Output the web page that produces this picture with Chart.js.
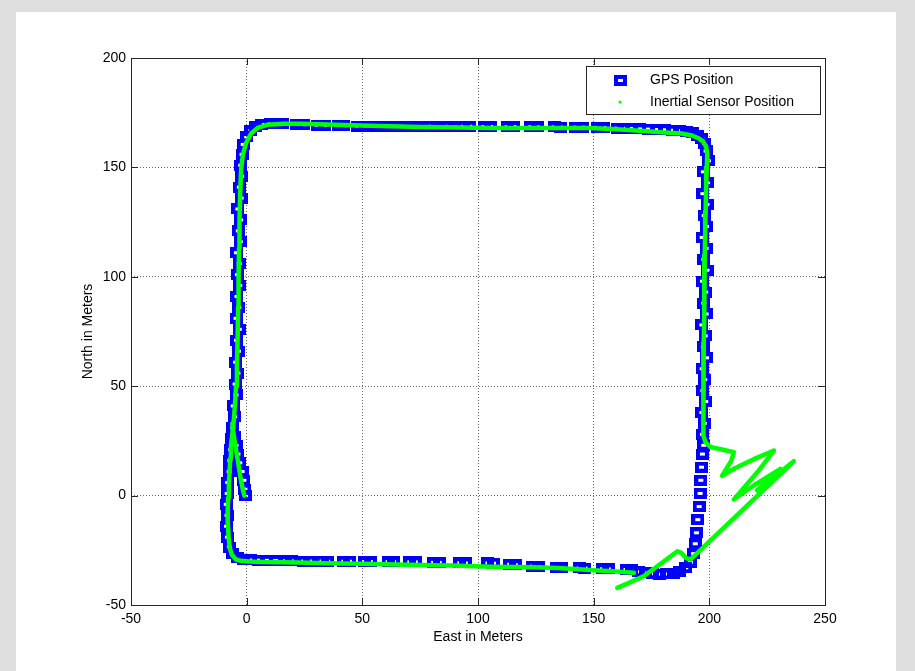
<!DOCTYPE html>
<html>
<head>
<meta charset="utf-8">
<script src="https://cdn.jsdelivr.net/npm/chart.js@4"></script>
<style>
  html, body { margin: 0; padding: 0; background: #dedede; }
  #wrap { width: 915px; height: 671px; }
</style>
</head>
<body>
<div id="wrap"><canvas id="track-chart" width="915" height="671"></canvas></div>
<script>
// Axis ticks
const eastTicks = [-50, 0, 50, 100, 150, 200, 250];
const northTicks = [-50, 0, 50, 100, 150, 200];

// GPS fixes (metres east / north) in driving order
const gpsEast = [
    // start
    -0.5, -0.8, -1.2, -2.0, -3.0, -3.8, -4.6, -5.4,
    // west side going north
    -6.0, -5.2, -5.8, -4.6, -5.0, -3.8, -4.8, -3.6, -4.4, -3.2, -4.6, -3.4, -4.2, -3.0, -4.0, -3.2, -4.4, -2.8, -3.6, -2.6, -3.8, -2.4, -3.2, -2.2, -2.6, -2.0,
    // NW corner
    -1.5, 0.0, 1.8, 3.8, 6.5,
    // north side
    10.5, 13, 15.5, 21.5, 24.5, 30.5, 33.5, 39.5, 42, 48, 50.8, 55.5, 58.3, 63, 65.8, 71, 73.8, 79.6, 82.4, 87, 89.8, 93.6, 96.4,
    102.6, 105.4, 112.6, 115.4, 122.8, 125.6, 132.9, 135.7, 142.3, 145.1, 151.6, 154.4, 160.2, 163, 166.5, 170, 173.5, 177, 180.5, 184, 187.3, 190.3, 192.8,
    // NE corner
    195.0, 196.8, 198.0, 198.6,
    // east side going south
    199.6, 197.4, 199.2, 197.2, 199.0, 197.8, 198.8, 196.9, 198.6, 197.6, 199.0, 197.0, 198.4, 197.6, 198.6, 196.8, 198.2, 197.4, 198.8, 196.9, 198.0, 197.2, 198.4, 196.8, 197.8, 197.0, 197.6,
    197.0, 196.6, 196.3, 196.0, 195.6, 195.0, 194.4, 193.9, 193.2,
    // SE corner
    191.8, 189.8, 187.3, 184.5, 181.5, 178.5, 175.5, 172.5, 169.5,
    // south side going west
    166.4, 164.0, 156.3, 153.9, 146.2, 143.8, 136.2, 133.8, 126.1, 123.7, 116.1, 113.7, 106.7, 104.3, 94.5, 92.1,
    83.2, 80.8, 72.9, 70.5, 63.5, 61.1, 53.4, 51.0, 44.4, 42.0, 35.0, 32.6, 27.1, 24.7, 19.2, 16.8,
    // SW corner
    12.5, 8.5, 5.0, 1.5, -1.5, -4.0, -6.2, -7.5,
    // west side going north again
    -8.3, -8.7, -8.5, -8.8, -8.4, -8.2, -7.6, -7.3, -6.9, -6.4
];
const gpsNorth = [
    0, 3, 7, 11, 15, 19, 23, 27,
    31, 36, 41, 46, 51, 56, 61, 66, 71, 76, 81, 86, 91, 96, 101, 106, 111, 116, 121, 126, 131, 136, 141, 146, 151, 156,
    160.5, 164, 166.8, 168.6, 169.6,
    170.0, 170.1, 169.9, 169.6, 169.5, 169.3, 169.2, 169.1, 169.0, 168.9, 168.9, 168.9, 168.8, 168.8, 168.8, 168.7, 168.7, 168.8, 168.7, 168.8, 168.7, 168.8, 168.8,
    168.7, 168.7, 168.6, 168.7, 168.6, 168.5, 168.5, 168.4, 168.4, 168.4, 168.3, 168.2, 168.0, 167.9, 167.8, 167.6, 167.5, 167.3, 167.2, 167.0, 166.7, 166.3, 165.8,
    164.8, 163, 160.8, 157.5,
    153, 148, 143, 138, 133, 128, 123, 118, 113, 108, 103, 98, 93, 88, 83, 78, 73, 68, 63, 58, 53, 48, 43, 38, 33, 28, 23,
    19, 13, 7, 1, -5, -11, -17, -22, -26.5,
    -30.5, -33, -34.6, -35.4, -35.8, -35.9, -35.7, -35.3, -34.8,
    -33.9, -33.8, -33.5, -33.4, -33.1, -33.0, -33.0, -32.9, -32.4, -32.2, -31.6, -31.4, -30.9, -30.8, -30.8, -30.7,
    -30.5, -30.5, -30.3, -30.3, -30.2, -30.2, -30.1, -30.1, -30.0, -30.0, -30.0, -29.9, -29.9, -29.9, -29.8, -29.8,
    -29.7, -29.6, -29.5, -29.4, -29.1, -28.4, -26.5, -23.5,
    -19, -14, -9, -4, 1, 6, 11, 16, 21, 26
];

// Inertial track, main trace
const insEast = [
    167.4, 158, 150, 142, 134.3, 125, 115, 106, 98.3, 89,
    80, 70, 59.5, 50, 40, 30.7, 22, 15, 7.6, 3.3,
    0, -2.5, -4.6, -6.3, -7.3, -7.8, -8.1, -8.2, -8.0, -7.7,
    -7.4, -7.1, -6.8, -6.2, -5.6, -5.1, -4.6, -4.2, -3.9, -3.7,
    -3.5, -3.3, -3.1, -2.8, -2.4, -1.6, -0.3, 1.9, 5, 9,
    16, 23.4, 35, 49.4, 62, 75, 87, 98.3, 110, 122,
    135, 148.7, 160, 171.7, 181, 188, 192.5, 195.4, 197.3, 198.6,
    199.1, 198.9, 198.6, 198.4, 198.2, 198.0, 197.9, 197.8, 197.7, 197.6,
    197.5, 197.4, 197.3, 197.3, 197.6, 198.3, 200.4, 205, 210.6, 209.5,
    205.5, 211, 220, 227.9, 221, 210.6, 219, 230.7, 220.6, 228,
    236.5, 191.8, 190, 188, 186.2, 182, 177.5, 171.7, 165, 160.2
];
const insNorth = [
    -35.3, -34.6, -34.1, -33.6, -33.1, -32.8, -32.6, -32.5, -32.3, -32.0,
    -31.8, -31.6, -31.4, -31.2, -31.0, -30.8, -30.6, -30.5, -30.4, -30.2,
    -30.0, -29.8, -29.2, -27.2, -24, -19, -13, -7, -1, 5,
    11, 17, 22.5, 28, 34, 41, 50, 60, 72, 86,
    100, 113, 126, 138, 149, 156, 161, 165.5, 168.2, 169.5,
    169.9, 170, 169.6, 169.1, 168.8, 168.5, 168.3, 168.1, 168, 168,
    168, 168, 167.4, 166.6, 166, 165.5, 164.6, 163.3, 161.8, 159.5,
    156, 150, 140, 130, 120, 110, 100, 90, 80, 70,
    60, 50, 40, 33, 27.5, 24.5, 22.2, 21.2, 19.8, 16,
    9, 12.5, 17, 20.6, 11, -1.8, 4.5, 12.2, 2.4, 8.5,
    15.7, -29.3, -28.6, -26.3, -25.4, -28.8, -32.3, -36.8, -40, -42.2
];

// Inertial track, short spur at the start point
const insStartEast = [-1.0, -1.8, -2.5, -3.2, -3.9, -4.6, -5.3, -5.9, -6.2];
const insStartNorth = [0, 3.5, 7.3, 12, 16.5, 21, 25.6, 30, 33];

const seriesNames = ['GPS Position', 'Inertial Sensor Position'];

const GPS_BLUE = '#0000ff';
const INS_GREEN = '#00ff00';
const AXIS_COLOR = '#262626';

function toPoints(xs, ys) {
    const n = Math.min(xs.length, ys.length);
    const pts = [];
    for (let i = 0; i < n; i++) pts.push({ x: xs[i], y: ys[i] });
    return pts;
}

// hollow, thick square marker like MATLAB's 's'
function makeSquareMarker() {
    const c = document.createElement('canvas');
    c.width = 13;
    c.height = 11;
    const g = c.getContext('2d');
    g.fillStyle = GPS_BLUE;
    g.fillRect(0, 0, 13, 11);
    g.clearRect(4, 4, 5, 3);
    return c;
}
const squareMarker = makeSquareMarker();

Chart.defaults.font.family = 'Arial, "Liberation Sans", Helvetica, sans-serif';
Chart.defaults.font.size = 14;
Chart.defaults.color = '#000';

// gray page with white figure
const figureBackground = {
    id: 'figureBackground',
    beforeDraw(chart) {
        const ctx = chart.ctx;
        ctx.save();
        ctx.fillStyle = '#dedede';
        ctx.fillRect(0, 0, chart.width, chart.height);
        ctx.fillStyle = '#ffffff';
        ctx.fillRect(16, 12, 880, chart.height - 12);
        ctx.restore();
    }
};

// box, inward ticks and legend
const axesBox = {
    id: 'axesBox',
    afterDraw(chart) {
        const ctx = chart.ctx;
        const area = chart.chartArea;
        const xs = chart.scales.x;
        const ys = chart.scales.y;
        const tick = 7;
        ctx.save();
        ctx.strokeStyle = AXIS_COLOR;
        ctx.lineWidth = 1;
        ctx.beginPath();
        eastTicks.forEach(v => {
            const px = Math.round(xs.getPixelForValue(v)) + 0.5;
            ctx.moveTo(px, area.bottom);
            ctx.lineTo(px, area.bottom - tick);
            ctx.moveTo(px, area.top);
            ctx.lineTo(px, area.top + tick);
        });
        northTicks.forEach(v => {
            const py = Math.round(ys.getPixelForValue(v)) + 0.5;
            ctx.moveTo(area.left, py);
            ctx.lineTo(area.left + tick, py);
            ctx.moveTo(area.right, py);
            ctx.lineTo(area.right - tick, py);
        });
        ctx.stroke();
        ctx.strokeRect(Math.round(area.left) + 0.5, Math.round(area.top) + 0.5,
            Math.round(area.right - area.left), Math.round(area.bottom - area.top));

        // legend
        const lx = 586.5, ly = 66.5, lw = 234, lh = 48;
        ctx.fillStyle = '#ffffff';
        ctx.fillRect(lx, ly, lw, lh);
        ctx.strokeRect(lx, ly, lw, lh);
        ctx.drawImage(squareMarker, 614, 75);
        ctx.fillStyle = INS_GREEN;
        ctx.beginPath();
        ctx.arc(620, 102, 1.6, 0, Math.PI * 2);
        ctx.fill();
        ctx.fillStyle = '#000';
        ctx.font = '14px Arial, "Liberation Sans", Helvetica, sans-serif';
        ctx.textBaseline = 'middle';
        ctx.textAlign = 'left';
        ctx.fillText(seriesNames[0], 650, 80.5);
        ctx.fillText(seriesNames[1], 650, 102);
        ctx.restore();
    }
};

function initChart() {
    const ctx = document.getElementById('track-chart').getContext('2d');
    return new Chart(ctx, {
        type: 'scatter',
        data: {
            datasets: [
                {
                    label: seriesNames[1],
                    data: toPoints(insEast, insNorth),
                    showLine: true,
                    borderColor: INS_GREEN,
                    borderWidth: 4.5,
                    borderJoinStyle: 'round',
                    borderCapStyle: 'round',
                    pointRadius: 0,
                    tension: 0,
                    order: 1
                },
                {
                    label: seriesNames[1] + ' (start)',
                    data: toPoints(insStartEast, insStartNorth),
                    showLine: true,
                    borderColor: INS_GREEN,
                    borderWidth: 4.5,
                    borderJoinStyle: 'round',
                    borderCapStyle: 'round',
                    pointRadius: 0,
                    tension: 0,
                    order: 1
                },
                {
                    label: seriesNames[0],
                    data: toPoints(gpsEast, gpsNorth),
                    showLine: false,
                    pointStyle: squareMarker,
                    pointRadius: 5,
                    order: 2
                }
            ]
        },
        options: {
            responsive: false,
            animation: false,
            devicePixelRatio: 1,
            layout: { padding: { left: 0, top: 58, right: 90, bottom: 0 } },
            plugins: {
                legend: { display: false },
                tooltip: { enabled: false }
            },
            scales: {
                x: {
                    type: 'linear',
                    min: -50,
                    max: 250,
                    afterBuildTicks: s => { s.ticks = eastTicks.map(v => ({ value: v })); },
                    afterFit: s => { s.height = 66; },
                    grid: { color: '#6a6a6a', lineWidth: 1, drawTicks: false },
                    border: { display: false, dash: [1, 2] },
                    ticks: { padding: 6, color: '#000', maxRotation: 0 },
                    title: {
                        display: true,
                        text: 'East in Meters',
                        color: '#000',
                        padding: { top: 0, bottom: 25 }
                    }
                },
                y: {
                    type: 'linear',
                    min: -50,
                    max: 200,
                    afterBuildTicks: s => { s.ticks = northTicks.map(v => ({ value: v })); },
                    afterFit: s => { s.width = 131; },
                    grid: { color: '#6a6a6a', lineWidth: 1, drawTicks: false },
                    border: { display: false, dash: [1, 2] },
                    ticks: { padding: 5, color: '#000' },
                    title: {
                        display: true,
                        text: 'North in Meters',
                        color: '#000',
                        padding: { top: 80, bottom: 0 }
                    }
                }
            }
        },
        plugins: [figureBackground, axesBox]
    });
}

initChart();
</script>
</body>
</html>
